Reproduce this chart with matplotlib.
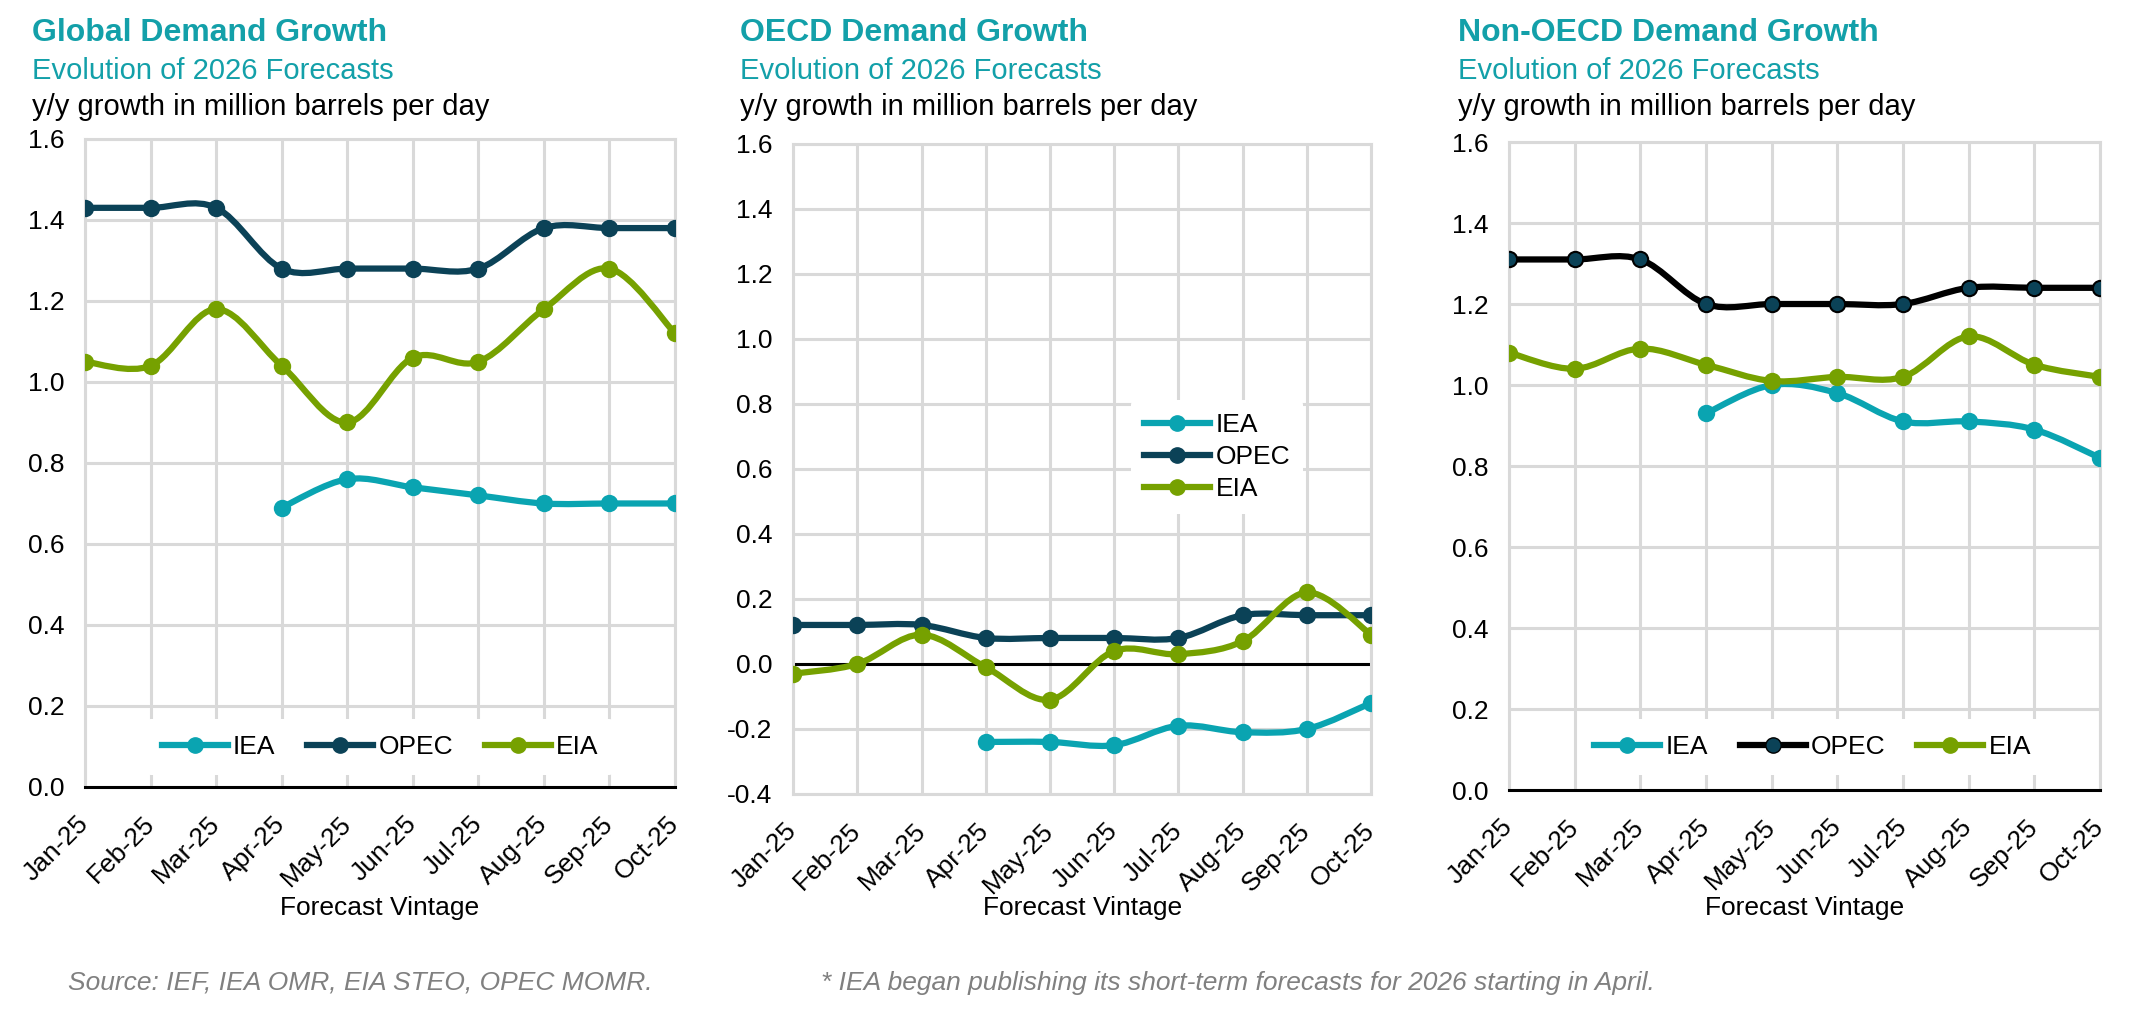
import numpy as np
import matplotlib.pyplot as plt
from matplotlib.path import Path
from matplotlib.patches import PathPatch
from matplotlib.lines import Line2D
from matplotlib.ticker import FormatStrFormatter

plt.rcParams['font.family'] = ['Liberation Sans', 'DejaVu Sans']

nan = np.nan
months = ['Jan-25', 'Feb-25', 'Mar-25', 'Apr-25', 'May-25',
          'Jun-25', 'Jul-25', 'Aug-25', 'Sep-25', 'Oct-25']
series_names = ['IEA', 'OPEC', 'EIA']

global_iea = [nan, nan, nan, 0.69, 0.76, 0.74, 0.72, 0.70, 0.70, 0.70]
global_opec = [1.43, 1.43, 1.43, 1.28, 1.28, 1.28, 1.28, 1.38, 1.38, 1.38]
global_eia = [1.05, 1.04, 1.18, 1.04, 0.90, 1.06, 1.05, 1.18, 1.28, 1.12]

oecd_iea = [nan, nan, nan, -0.24, -0.24, -0.25, -0.19, -0.21, -0.20, -0.12]
oecd_opec = [0.12, 0.12, 0.12, 0.08, 0.08, 0.08, 0.08, 0.15, 0.15, 0.15]
oecd_eia = [-0.03, 0.00, 0.09, -0.01, -0.11, 0.04, 0.03, 0.07, 0.22, 0.09]

nonoecd_iea = [nan, nan, nan, 0.93, 1.00, 0.98, 0.91, 0.91, 0.89, 0.82]
nonoecd_opec = [1.31, 1.31, 1.31, 1.20, 1.20, 1.20, 1.20, 1.24, 1.24, 1.24]
nonoecd_eia = [1.08, 1.04, 1.09, 1.05, 1.01, 1.02, 1.02, 1.12, 1.05, 1.02]

TEAL_TITLE = '#13A0A9'
C_IEA = '#0AA4B1'
C_OPEC = '#0B4257'
C_EIA = '#76A100'
GRID = '#D9D9D9'
LW = 4.5
MS = 11


def smooth_path(x, y):
    # excel-style smoothed line (bezier through the points)
    pts = np.column_stack([x, y])
    n = len(pts)
    verts = [pts[0]]
    codes = [Path.MOVETO]
    for i in range(n - 1):
        p0 = pts[max(i - 1, 0)]
        p1 = pts[i]
        p2 = pts[i + 1]
        p3 = pts[min(i + 2, n - 1)]
        verts += [p1 + (p2 - p0) / 6, p2 - (p3 - p1) / 6, p2]
        codes += [Path.CURVE4] * 3
    return Path(verts, codes)


def draw_series(ax, values, color, mfc=None, z=3):
    x = np.arange(len(values), dtype=float)
    y = np.array(values, dtype=float)
    ok = ~np.isnan(y)
    patch = PathPatch(smooth_path(x[ok], y[ok]), facecolor='none', edgecolor=color,
                      lw=LW, capstyle='round', joinstyle='round', zorder=z)
    ax.add_patch(patch)
    ax.plot(x[ok], y[ok], 'o', ms=MS, color=mfc or color, mec=color, mew=1.5,
            linestyle='none', zorder=z + 0.1)


def setup_axes(ax, ymin, ymax, title, left_x, black_bottom):
    ax.set_xlim(0, 9)
    ax.set_ylim(ymin, ymax)
    ax.set_yticks(np.arange(ymin, ymax + 0.01, 0.2))
    ax.yaxis.set_major_formatter(FormatStrFormatter('%.1f'))
    ax.set_xticks(range(len(months)))
    ax.set_xticklabels(months, rotation=45, ha='right', va='center',
                       rotation_mode='anchor')
    ax.tick_params(axis='both', length=0, labelsize=19)
    ax.tick_params(axis='y', pad=15)
    ax.tick_params(axis='x', pad=24)
    ax.grid(True, color=GRID, lw=2.2)
    ax.set_axisbelow(True)
    for s in ['left', 'right', 'top', 'bottom']:
        ax.spines[s].set_color(GRID)
        ax.spines[s].set_linewidth(2.2)
    if black_bottom:
        ax.spines['bottom'].set_color('black')
        ax.spines['bottom'].set_zorder(2.5)
    pos = ax.get_position()
    fig.text(left_x, 0.967, title, color=TEAL_TITLE, fontsize=23, fontweight='bold',
             ha='left', va='center')
    fig.text(left_x, 0.930, 'Evolution of 2026 Forecasts', color=TEAL_TITLE,
             fontsize=21, ha='left', va='center')
    fig.text(left_x, 0.894, 'y/y growth in million barrels per day', color='black',
             fontsize=21, ha='left', va='center')
    fig.text(pos.x0 + pos.width / 2, 0.101, 'Forecast Vintage', fontsize=19,
             ha='center', va='center')


def legend_handles(opec_line, opec_face):
    return [
        Line2D([], [], color=C_IEA, lw=LW, marker='o', ms=MS),
        Line2D([], [], color=opec_line, lw=LW, marker='o', ms=MS,
               mfc=opec_face, mec=opec_line),
        Line2D([], [], color=C_EIA, lw=LW, marker='o', ms=MS),
    ]


fig = plt.figure(figsize=(21.32, 10.10), dpi=100)

ax1 = fig.add_axes([0.0399, 0.2208, 0.2767, 0.6416])
ax2 = fig.add_axes([0.3720, 0.2139, 0.2711, 0.6436])
ax3 = fig.add_axes([0.7078, 0.2178, 0.2772, 0.6416])

# Global
setup_axes(ax1, 0.0, 1.6, 'Global Demand Growth', 0.015, True)
draw_series(ax1, global_iea, C_IEA)
draw_series(ax1, global_opec, C_OPEC)
draw_series(ax1, global_eia, C_EIA)
ax1.legend(legend_handles(C_OPEC, C_OPEC), series_names, loc='center',
           bbox_to_anchor=(0.5, 0.062), ncol=3, fontsize=19, frameon=True,
           facecolor='white', edgecolor='none', framealpha=1, handlelength=2.5,
           handletextpad=0.2, columnspacing=1.2, borderpad=0.6)

# OECD
setup_axes(ax2, -0.4, 1.6, 'OECD Demand Growth', 0.347, False)
ax2.axhline(0, color='black', lw=2.2, zorder=2.5)
draw_series(ax2, oecd_iea, C_IEA)
draw_series(ax2, oecd_opec, C_OPEC)
draw_series(ax2, oecd_eia, C_EIA)
ax2.legend(legend_handles(C_OPEC, C_OPEC), series_names, loc='center',
           bbox_to_anchor=(0.734, 0.518), ncol=1, fontsize=19, frameon=True,
           facecolor='white', edgecolor='none', framealpha=1, handlelength=2.5,
           handletextpad=0.2, labelspacing=0.3, borderpad=0.5)

# Non-OECD
setup_axes(ax3, 0.0, 1.6, 'Non-OECD Demand Growth', 0.684, True)
draw_series(ax3, nonoecd_iea, C_IEA)
draw_series(ax3, nonoecd_opec, 'black', mfc=C_OPEC)
draw_series(ax3, nonoecd_eia, C_EIA)
ax3.legend(legend_handles('black', C_OPEC), series_names, loc='center',
           bbox_to_anchor=(0.514, 0.066), ncol=3, fontsize=19, frameon=True,
           facecolor='white', edgecolor='none', framealpha=1, handlelength=2.5,
           handletextpad=0.2, columnspacing=1.2, borderpad=0.6)

fig.text(0.032, 0.027, 'Source: IEF, IEA OMR, EIA STEO, OPEC MOMR.', color='#808080',
         fontsize=19, style='italic', ha='left', va='center')
fig.text(0.385, 0.027,
         '* IEA began publishing its short-term forecasts for 2026 starting in April.',
         color='#808080', fontsize=19, style='italic', ha='left', va='center')

fig.savefig('out.png', dpi=100)
